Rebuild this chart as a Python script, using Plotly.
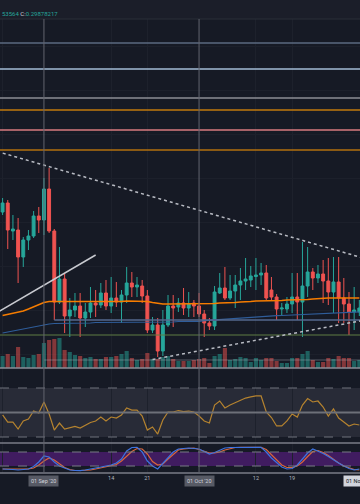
import plotly.graph_objects as go
import pandas as pd

# ---------------- data ----------------
dates = pd.date_range("2020-08-24", periods=70, freq="D")

open_ = [.388,.397,.369,.370,.343,.360,.364,.384,.380,.411,
         .369,.298,.321,.284,.290,.294,.282,.288,.297,.295,
         .307,.294,.302,.298,.305,.317,.313,.314,.304,.270,
         .275,.249,.275,.294,.293,.297,.292,.297,.294,.286,
         .277,.274,.307,.312,.302,.309,.315,.319,.320,.3235,
         .325,.327,.310,.303,.291,.291,.296,.303,.298,.314,
         .328,.322,.326,.319,.308,.318,.302,.296,.288,.288]
high = [.402,.400,.385,.382,.363,.370,.389,.393,.422,.432,
        .371,.353,.327,.302,.307,.307,.297,.313,.310,.317,
        .320,.323,.318,.310,.333,.328,.323,.320,.310,.283,
        .282,.290,.305,.305,.302,.312,.308,.300,.307,.290,
        .282,.314,.327,.333,.325,.325,.332,.342,.334,.342,
        .337,.335,.323,.306,.297,.303,.327,.327,.358,.353,
        .332,.335,.340,.342,.343,.343,.322,.308,.313,.300]
low = [.385,.351,.360,.317,.333,.350,.362,.367,.365,.367,
       .280,.296,.267,.263,.283,.263,.273,.282,.283,.292,
       .290,.287,.293,.277,.297,.303,.303,.297,.267,.267,
       .243,.244,.273,.273,.288,.285,.283,.283,.283,.263,
       .270,.270,.306,.300,.300,.292,.300,.310,.313,.310,
       .315,.300,.300,.280,.285,.287,.287,.280,.263,.303,
       .310,.317,.297,.295,.287,.277,.277,.265,.270,.284]
close = [.397,.370,.371,.343,.360,.364,.384,.380,.411,.369,
         .298,.321,.284,.290,.294,.282,.288,.297,.295,.307,
         .294,.302,.298,.305,.317,.313,.315,.304,.270,.275,
         .249,.275,.294,.292,.297,.292,.296,.294,.286,.277,
         .274,.308,.312,.302,.309,.315,.319,.321,.324,.325,
         .327,.302,.303,.291,.292,.296,.303,.298,.314,.328,
         .322,.326,.319,.308,.318,.302,.296,.288,.290,.292]
volume = [12,14,12,21,11,10,13,14,25,28,
          29,30,18,16,13,12,10,11,9,9,
          11,11,12,14,17,10,8,9,15,9,
          9,11,12,9,7,7,7,8,9,10,
          5,12,14,20,8,9,11,10,6,10,
          8,10,10,7,5,5,10,10,14,17,
          8,6,6,10,9,12,10,10,7,8]
ma_orange = [.2845,.2855,.2865,.288,.289,.291,.293,.295,.2975,.2985,
             .2985,.298,.298,.298,.298,.298,.298,.298,.298,.298,
             .298,.298,.2985,.2985,.299,.299,.299,.299,.2985,.2975,
             .2965,.296,.296,.296,.296,.296,.296,.296,.296,.296,
             .296,.2965,.297,.297,.2975,.2975,.298,.298,.2985,.299,
             .299,.2995,.2995,.2995,.2995,.300,.300,.300,.300,.3005,
             .301,.3015,.302,.302,.302,.302,.302,.302,.302,.302]
ma_blue = [.267,.268,.269,.270,.271,.272,.273,.2745,.2755,.276,
           .2765,.2765,.277,.277,.277,.277,.277,.277,.2775,.2775,
           .2775,.2775,.2775,.2775,.278,.278,.278,.278,.278,.278,
           .278,.278,.278,.278,.2785,.2785,.2785,.2785,.2785,.2794,
           .2798,.2802,.2805,.2809,.2813,.2817,.282,.2824,.2828,.2832,
           .2835,.2838,.284,.2843,.2845,.2848,.285,.2853,.2855,.2858,
           .286,.2863,.2866,.2868,.287,.2873,.2875,.2877,.2879,.288]
rsi = [48.0,42.2,42.2,36.5,43.1,44.7,51.2,49.6,58.6,48.8,
       35.7,41.4,36.5,37.3,38.6,37.3,39.8,41.8,43.1,46.3,
       43.1,46.3,45.5,48.0,53.7,52.0,52.0,47.1,35.7,38.2,
       32.4,43.9,50.4,50.4,51.6,50.8,51.2,50.4,47.1,43.1,
       41.4,56.1,59.4,53.7,56.1,58.2,60.2,61.8,62.7,63.5,
       63.5,50.4,45.9,39.0,39.0,43.1,48.8,46.3,56.1,61.4,
       58.6,59.4,54.5,47.1,52.9,45.5,42.2,39.0,40.6,39.8]
stoch_k = [7.1,7.1,5.0,2.9,5.0,7.1,17.9,37.1,62.9,58.6,
           37.1,20.0,11.4,2.9,0.7,0.0,2.9,7.1,11.4,15.7,
           20.0,24.3,32.9,50.0,84.3,99.3,100,80.0,41.4,20.0,
           7.1,32.9,58.6,80.0,92.9,95.0,97.1,95.0,92.9,82.1,
           71.4,77.9,88.6,97.1,99.3,100,100,100,100,100,
           100,80.0,54.3,32.9,15.7,7.1,9.3,24.3,52.1,75.7,
           92.9,84.3,73.6,60.7,45.7,32.9,20.0,9.3,2.9,7.1]
stoch_d = [7.1,7.1,7.1,5.0,5.0,7.1,11.4,24.3,41.4,54.3,
           45.7,28.6,13.6,5.0,0.7,0.7,0.7,2.9,7.1,11.4,
           15.7,20.0,26.4,41.4,62.9,82.1,95.0,92.9,71.4,39.3,
           24.3,28.6,50.0,71.4,88.6,92.9,95.0,97.1,90.7,82.1,
           75.7,75.7,80.0,88.6,95.0,99.3,100,100,100,100,
           100,90.7,69.3,43.6,24.3,13.6,13.6,20.0,37.1,60.7,
           82.1,86.4,77.9,65.0,47.9,32.9,20.0,11.4,5.0,2.9]

level_prices = [.557, .531, .502, .490, .470, .450]
level_colors = ["#5b6a80", "#a3bcd6", "#8c8e94", "#c27a0c", "#d97b7f", "#b3700e"]
green_level = .265
slate_level = .280
tick_dates = ["2020-08-24", "2020-09-14", "2020-09-21", "2020-10-12", "2020-10-19"]
tick_text = ["24", "14", "21", "12", "19"]
box_dates = ["2020-09-01", "2020-10-01", "2020-11-01"]
box_text = ["01 Sep '20", "01 Oct '20", "01 Nov '20"]

# ---------------- style ----------------
BG = "#161a25"
UP = "#26a69a"
DN = "#ef5350"
H = 504


def py(px):
    return 1 - px / H


vol_colors = ["rgba(38,166,154,0.5)" if c >= o else "rgba(239,83,80,0.5)"
              for o, c in zip(open_, close)]

fig = go.Figure()
fig.add_trace(go.Bar(x=dates, y=volume, yaxis="y2", width=0.8 * 86400000,
                     marker=dict(color=vol_colors, line=dict(width=0)),
                     hoverinfo="skip", showlegend=False))
fig.add_trace(go.Candlestick(x=dates, open=open_, high=high, low=low, close=close,
                             increasing=dict(line=dict(color=UP, width=1), fillcolor=UP),
                             decreasing=dict(line=dict(color=DN, width=1), fillcolor=DN),
                             whiskerwidth=0, showlegend=False))
fig.add_trace(go.Scatter(x=dates, y=ma_blue, mode="lines",
                         line=dict(color="#2f5d9a", width=1.2), showlegend=False))
fig.add_trace(go.Scatter(x=dates, y=ma_orange, mode="lines",
                         line=dict(color="#f57c00", width=1.5), showlegend=False))
fig.add_trace(go.Scatter(x=dates, y=rsi, yaxis="y3", mode="lines",
                         line=dict(color="#b5832f", width=1.2), showlegend=False))
fig.add_trace(go.Scatter(x=dates, y=stoch_d, yaxis="y4", mode="lines",
                         line=dict(color="#d8663c", width=1.2), showlegend=False))
fig.add_trace(go.Scatter(x=dates, y=stoch_k, yaxis="y4", mode="lines",
                         line=dict(color="#3d73e0", width=1.2), showlegend=False))

shapes = []
# header strip
shapes.append(dict(type="rect", xref="paper", yref="paper", x0=0, x1=1, y0=py(19), y1=1,
                   fillcolor="#1b1e29", line=dict(width=0), layer="below"))
shapes.append(dict(type="line", xref="paper", yref="paper", x0=0, x1=1, y0=py(19), y1=py(19),
                   line=dict(color="#2a2e39", width=1)))
# RSI pane decorations
shapes.append(dict(type="rect", xref="paper", yref="y3", x0=0, x1=1, y0=30, y1=70,
                   fillcolor="#282b37", line=dict(width=0), layer="below"))
for v in (30, 70):
    shapes.append(dict(type="line", xref="paper", yref="y3", x0=0, x1=1, y0=v, y1=v,
                       line=dict(color="#6f727c", width=1, dash="dash")))
shapes.append(dict(type="line", xref="paper", yref="y3", x0=0, x1=1, y0=50, y1=50,
                   line=dict(color="#6d7079", width=2)))
# Stoch pane decorations
shapes.append(dict(type="rect", xref="paper", yref="y4", x0=0, x1=1, y0=20, y1=80,
                   fillcolor="#401c60", line=dict(width=0), layer="below"))
for v in (20, 80):
    shapes.append(dict(type="line", xref="paper", yref="y4", x0=0, x1=1, y0=v, y1=v,
                       line=dict(color="#787b86", width=1, dash="dash")))
# pane separators
for ypx, col in ((368, "#8b8e97"), (443, "#7a7d87"), (473, "#7a7d87")):
    shapes.append(dict(type="line", xref="paper", yref="paper", x0=0, x1=1,
                       y0=py(ypx), y1=py(ypx), line=dict(color=col, width=1.5)))
# horizontal levels
for p, c in zip(level_prices, level_colors):
    shapes.append(dict(type="line", xref="paper", yref="y", x0=0, x1=1, y0=p, y1=p,
                       line=dict(color=c, width=1.3)))
shapes.append(dict(type="line", xref="paper", yref="y", x0=0, x1=1, y0=green_level, y1=green_level,
                   line=dict(color="#5f7d45", width=1)))
shapes.append(dict(type="line", xref="x", yref="y", x0="2020-09-03", x1="2020-11-15",
                   y0=slate_level, y1=slate_level, line=dict(color="#55688e", width=1.3)))
shapes.append(dict(type="line", xref="x", yref="y2", x0="2020-09-01", x1="2020-11-15",
                   y0=8, y1=8, line=dict(color="rgba(190,195,205,0.25)", width=1.5)))
# trend lines
shapes.append(dict(type="line", xref="x", yref="y", x0="2020-08-14", y0=.462,
                   x1="2020-11-11", y1=.328, line=dict(color="#b8bbc3", width=1.5, dash="dot")))
shapes.append(dict(type="line", xref="x", yref="y", x0="2020-09-22", y0=.2405,
                   x1="2020-11-11", y1=.2885, line=dict(color="#b8bbc3", width=1.5, dash="dot")))
shapes.append(dict(type="line", xref="x", yref="y", x0="2020-08-21 12:00", y0=.283,
                   x1="2020-09-11", y1=.345, line=dict(color="#c8cad0", width=1.5)))
# vertical month lines
for d in box_dates[:2]:
    shapes.append(dict(type="line", xref="x", yref="paper", x0=d, x1=d, y0=py(473), y1=py(19),
                       line=dict(color="#62656f", width=1)))

annotations = [
    dict(xref="paper", yref="paper", x=0, y=py(13), xanchor="left", yanchor="middle",
         showarrow=False, font=dict(size=6, family="Roboto", color=UP),
         text='<span style="color:#26a69a">53564 </span><span style="color:#d1d4dc">C:</span>'
              '<span style="color:#26a69a">0.29878217</span>'),
]
for i, (d, t) in enumerate(zip(box_dates, box_text)):
    last = i == len(box_dates) - 1
    annotations.append(dict(xref="x", yref="paper", x=d, y=py(481), xanchor="center",
                            yanchor="middle", showarrow=False, text=t,
                            font=dict(size=5.5, family="Roboto",
                                      color="#131722" if last else "#d1d4dc"),
                            bgcolor="#d1d4dc" if last else "#575a65", borderpad=2))

fig.update_layout(
    width=360, height=504, margin=dict(l=0, r=0, t=0, b=0),
    paper_bgcolor=BG, plot_bgcolor=BG, showlegend=False, boxgap=0.2,
    xaxis=dict(type="date", range=["2020-08-23 12:00", "2020-11-01 03:07"], anchor="y4",
               domain=[0, 1], rangeslider=dict(visible=False), tickvals=tick_dates,
               ticktext=tick_text, tickfont=dict(size=5.5, color="#b2b5be", family="Roboto"),
               showgrid=True, gridcolor="#1d212c", zeroline=False, showline=False, ticks=""),
    yaxis=dict(domain=[py(368), py(19)], range=[0.232, 0.581], showticklabels=False,
               tickvals=[.554, .510, .466, .422, .378, .334, .290, .246],
               showgrid=True, gridcolor="#1c202b", zeroline=False, ticks=""),
    yaxis2=dict(overlaying="y", range=[0, 349], visible=False),
    yaxis3=dict(domain=[py(443), py(368)], range=[25.1, 86.33], visible=False, anchor="x"),
    yaxis4=dict(domain=[py(473), py(443)], range=[-10, 118.6], visible=False, anchor="x"),
    shapes=shapes, annotations=annotations,
)

fig.write_html("out.html", config={"displayModeBar": False},
               post_script="document.body.style.margin='0';document.body.style.padding='0';"
                           "document.body.style.background='#161a25';")
